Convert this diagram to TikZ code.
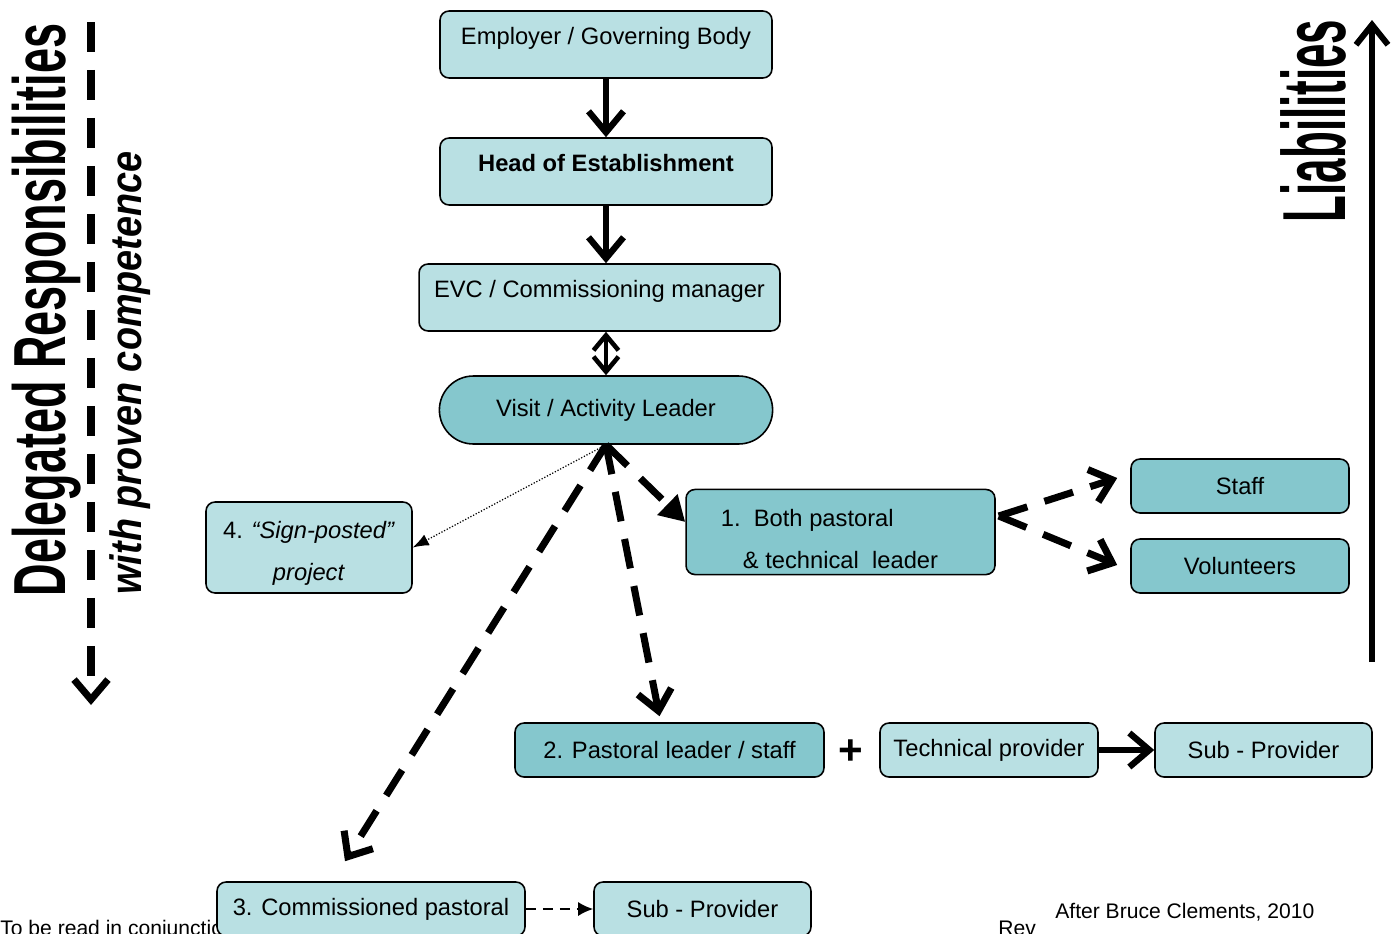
\documentclass[tikz,border=0pt]{standalone}
\usepackage{fontspec}
\setmainfont{Liberation Sans}
\usetikzlibrary{arrows.meta,shapes.misc,positioning}
\definecolor{boxlight}{RGB}{185,224,227}
\definecolor{boxdark}{RGB}{133,199,205}

\begin{document}
\begin{tikzpicture}[x=0.02cm, y=-0.02cm,
  font=\fontsize{13.5}{16}\selectfont,
  lightbox/.style={rectangle, draw=black, line width=0.9pt, fill=boxlight, rounded corners=0.18cm, minimum height=1.08cm},
  darkbox/.style={lightbox, fill=boxdark},
  tallbox/.style={lightbox, minimum height=1.34cm, text height=0.35cm, text depth=0.36cm},
  solidarrow/.style={line width=3.6pt, -{Straight Barb[length=0.42cm, width=0.7cm]}},
  dasharrow/.style={line width=4pt, dash pattern=on 0.6cm off 0.36cm, -{Straight Barb[length=0.4cm, width=0.68cm]}},
  sidetext/.style={rotate=90, anchor=base, inner sep=0pt},
  smalltext/.style={anchor=base west, inner sep=0pt, font=\fontsize{12}{14}\selectfont}
]
\useasboundingbox (0,0) rectangle (1399,933);
\clip (0,0) rectangle (1399,933);

% footer
\node[smalltext] (note) at (0,935) {To be read in conjunction};
\node[smalltext] (rev) at (998,935) {Rev};
\node[smalltext] (after) at (1055,918) {After Bruce Clements, 2010};

% chain of command
\node[tallbox, minimum width=6.64cm] (employer) at (606,44.5) {Employer / Governing Body};
\node[tallbox, minimum width=6.64cm, font=\fontsize{13.5}{16}\selectfont\bfseries] (head) at (606,171.5) {Head of Establishment};
\node[tallbox, minimum width=7.22cm] (evc) at (599.5,297.5) {EVC / Commissioning manager};
\node[darkbox, rounded rectangle, sharp corners, minimum width=6.9cm, minimum height=1.36cm] (lead) at (606,410) {Visit / Activity Leader};

% options
\node[lightbox, minimum width=4.12cm, minimum height=1.82cm, align=center, font=\fontsize{13.5}{24}\selectfont] (four) at (309,547.5) {\rule{0pt}{0.58cm}4. \textit{“Sign-posted”}\\ \textit{project}};
\node[darkbox, minimum width=6.18cm, minimum height=1.64cm, align=left, font=\fontsize{13.5}{24}\selectfont] (one) at (840.5,532) {\rule{0pt}{0.62cm}1.\ \ Both pastoral\\ \hspace*{0.44cm}\&~technical\ \ leader\hspace*{0.44cm}};
\node[darkbox, minimum width=4.36cm] (staff) at (1240,486) {Staff};
\node[darkbox, minimum width=4.36cm] (volunteers) at (1240,566) {Volunteers};
\node[darkbox, minimum width=6.18cm] (two) at (669.5,750) {2. Pastoral leader / staff};
\node[font=\fontsize{24}{24}\selectfont\bfseries] (plus) at (851,752) {+};
\node[lightbox, minimum width=4.36cm] (tech) at (989,750) {Technical provider};
\node[lightbox, minimum width=4.34cm] (sub) at (1263.5,750) {Sub - Provider};
\node[lightbox, minimum width=6.16cm] (three) at (371,909) {3. Commissioned pastoral};
\node[lightbox, minimum width=4.34cm] (subthree) at (702.5,909) {Sub - Provider};

% connectors
\draw[solidarrow] (employer) -- (head);
\draw[solidarrow] (head.south) -- (head.south |- evc.north);
\draw[line width=2.6pt, {Straight Barb[length=0.3cm,width=0.5cm]}-{Straight Barb[length=0.3cm,width=0.5cm]}] (lead.north |- evc.south) -- (lead.north);
\draw[densely dotted, line width=0.7pt, -{Latex[length=0.32cm,width=0.24cm]}] (lead.south) -- (four.east);
\draw[dasharrow, -{Triangle[length=0.5cm,width=0.55cm]}] (lead.south) -- ([shift={(0,-10)}]one.west);
\draw[dasharrow] (lead.south) -- ([shift={(-10,-6)}]two.north);
\draw[dasharrow] (lead.south) -- ([shift={(-26,-20)}]three.north);
\draw[dasharrow] ([shift={(3,-16)}]one.east) -- ([shift={(-13,-8)}]staff.west);
\draw[dasharrow] ([shift={(3,-16)}]one.east) -- ([shift={(-13,-1)}]volunteers.west);
\draw[line width=3.6pt, -{Straight Barb[length=0.4cm,width=0.68cm]}] (tech) -- (sub);
\draw[line width=1.1pt, dash pattern=on 0.2cm off 0.14cm, -{Latex[length=0.3cm,width=0.28cm]}] (three) -- (subthree);

% side arrows
\coordinate (downtop) at (91,22);
\coordinate (downend) at (91,705);
\draw[dasharrow] (downtop) -- (downend);
\coordinate (uptop) at (1372,20);
\coordinate (upbottom) at (1372,662);
\draw[line width=3.4pt, -{Straight Barb[length=0.4cm,width=0.64cm]}] (upbottom) -- (uptop);

\node[sidetext] (delegated) at (65,310) {\scalebox{0.61}[1]{\fontsize{42}{42}\selectfont\bfseries Delegated Responsibilities}};
\node[sidetext] (competence) at (141,373) {\scalebox{0.86}[1]{\fontsize{25}{25}\selectfont\bfseries\itshape with proven competence}};
\node[sidetext] (liabilities) at (1345,121) {\scalebox{0.49}[1]{\fontsize{51}{51}\selectfont\bfseries Liabilities}};
\end{tikzpicture}
\end{document}
